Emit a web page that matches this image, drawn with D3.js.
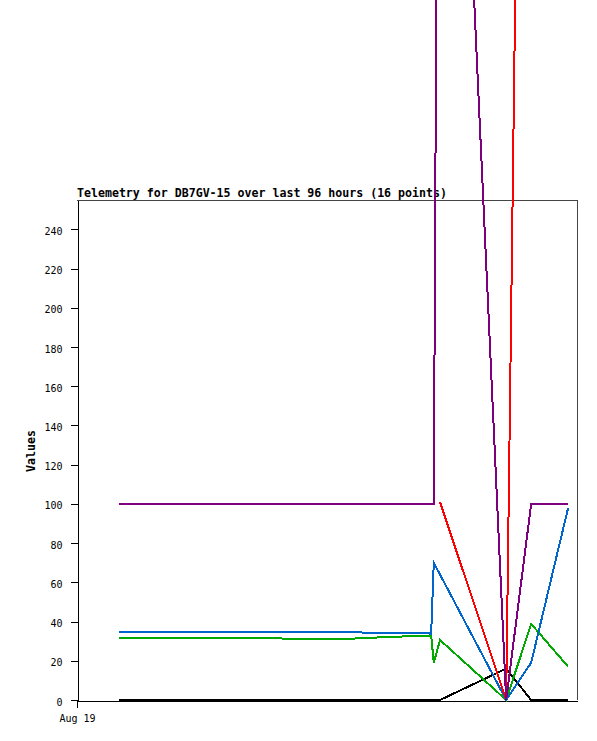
<!DOCTYPE html>
<html>
<head>
<meta charset="utf-8">
<script src="https://cdn.jsdelivr.net/npm/d3@7"></script>
<style>
  html, body { margin: 0; padding: 0; background: #fff; }
  svg { display: block; overflow: visible; }
  text { font-family: "DejaVu Sans Mono", "Liberation Mono", monospace; fill: #000; }
</style>
</head>
<body>
<svg id="chart" width="597" height="741"></svg>
<script>
// ---- data ----
const times = [
  "2024-08-19T08:00Z", "2024-08-19T14:00Z", "2024-08-19T20:00Z", "2024-08-20T02:00Z",
  "2024-08-20T08:00Z", "2024-08-20T14:00Z", "2024-08-20T20:00Z", "2024-08-21T02:00Z",
  "2024-08-21T07:12Z", "2024-08-21T13:30Z", "2024-08-21T20:00Z", "2024-08-21T20:30Z",
  "2024-08-21T21:42Z", "2024-08-22T10:24Z", "2024-08-22T15:12Z", "2024-08-22T22:18Z"
];
const seriesBlack  = [0, 0, 0, 0, 0, 0, 0, 0, 0, 0, 0, 0, 0, 16, 0, 0];
const seriesGreen  = [31.8, 31.8, 31.8, 31.8, 31.8, 31.5, 30.9, 30.9, 31.6, 32.3, 32.9, 19, 30.6, 0, 38.8, 17];
const seriesBlue   = [34.9, 34.9, 34.9, 34.9, 34.9, 34.9, 34.8, 34.7, 34.4, 34.1, 33.9, 70, 64, 0, 19, 98];
const seriesRed    = [null, null, null, null, null, null, null, null, null, null, null, null, 101, 0, 990, 990];
const seriesPurple = [100, 100, 100, 100, 100, 100, 100, 100, 100, 100, 100, 100, 737, 0, 100, 100];
const yTicks = [0, 20, 40, 60, 80, 100, 120, 140, 160, 180, 200, 220, 240];
const xTickLabels = ["Aug 19"];
const xTickDates = ["2024-08-19T00:00Z"];
const titleText = "Telemetry for DB7GV-15 over last 96 hours (16 points)";
const yAxisTitle = "Values";

// ---- layout ----
const plotL = 77, plotR = 577, plotT = 200, plotB = 700;
const svg = d3.select("#chart");

const x = d3.scaleUtc()
  .domain([new Date("2024-08-19T00:00Z"), new Date("2024-08-23T00:00Z")])
  .range([plotL, plotR]);
const y = d3.scaleLinear().domain([0, 255]).range([plotB, plotT]);

// frame (top/right)
svg.append("path")
  .attr("d", `M${plotL},${plotT + 0.5}H${plotR + 0.5}V${plotB}`)
  .attr("fill", "none").attr("stroke", "#444").attr("stroke-width", 1)
  .attr("shape-rendering", "crispEdges");

// y axis
const yAxis = d3.axisLeft(y).tickValues(yTicks).tickSize(7).tickPadding(8).tickSizeOuter(0);
const gy = svg.append("g").attr("transform", `translate(${plotL + 0.5},0)`).call(yAxis);
gy.select(".domain").attr("stroke", "#000").attr("shape-rendering", "crispEdges");
gy.selectAll(".tick line").attr("stroke", "#000").attr("shape-rendering", "crispEdges");
gy.selectAll(".tick text").attr("font-size", "10px").attr("font-family", "DejaVu Sans Mono")
  .attr("dy", "0.5em");

// x axis
const xAxis = d3.axisBottom(x)
  .tickValues(xTickDates.map(d => new Date(d)))
  .tickFormat((d, i) => xTickLabels[i])
  .tickSize(7).tickPadding(7).tickSizeOuter(0);
const gx = svg.append("g").attr("transform", `translate(0,${plotB + 0.5})`).call(xAxis);
gx.select(".domain").attr("stroke", "#000").attr("shape-rendering", "crispEdges");
gx.selectAll(".tick line").attr("stroke", "#000").attr("shape-rendering", "crispEdges");
gx.selectAll(".tick text").attr("font-size", "10px").attr("font-family", "DejaVu Sans Mono");

// title
svg.append("text")
  .attr("x", plotL).attr("y", 196.5)
  .attr("font-size", "11.6px").attr("font-weight", "bold")
  .text(titleText);

// y axis title
svg.append("text")
  .attr("transform", "translate(35,451) rotate(-90)")
  .attr("text-anchor", "middle")
  .attr("font-size", "11.6px").attr("font-weight", "bold")
  .text(yAxisTitle);

// series
const dates = times.map(t => new Date(t));
const series = [
  { values: seriesBlack,  color: "#000000" },
  { values: seriesGreen,  color: "#00aa00" },
  { values: seriesBlue,   color: "#0066cc" },
  { values: seriesRed,    color: "#ff0000" },
  { values: seriesPurple, color: "#7f007f" }
];
const line = d3.line()
  .defined(d => d.v !== null)
  .x(d => x(d.t))
  .y(d => y(d.v));

series.forEach(s => {
  svg.append("path")
    .datum(s.values.map((v, i) => ({ t: dates[i], v })))
    .attr("d", line)
    .attr("fill", "none")
    .attr("stroke", s.color)
    .attr("stroke-width", 2)
    .attr("stroke-linejoin", "miter")
    .attr("shape-rendering", "crispEdges");
});
</script>
</body>
</html>
